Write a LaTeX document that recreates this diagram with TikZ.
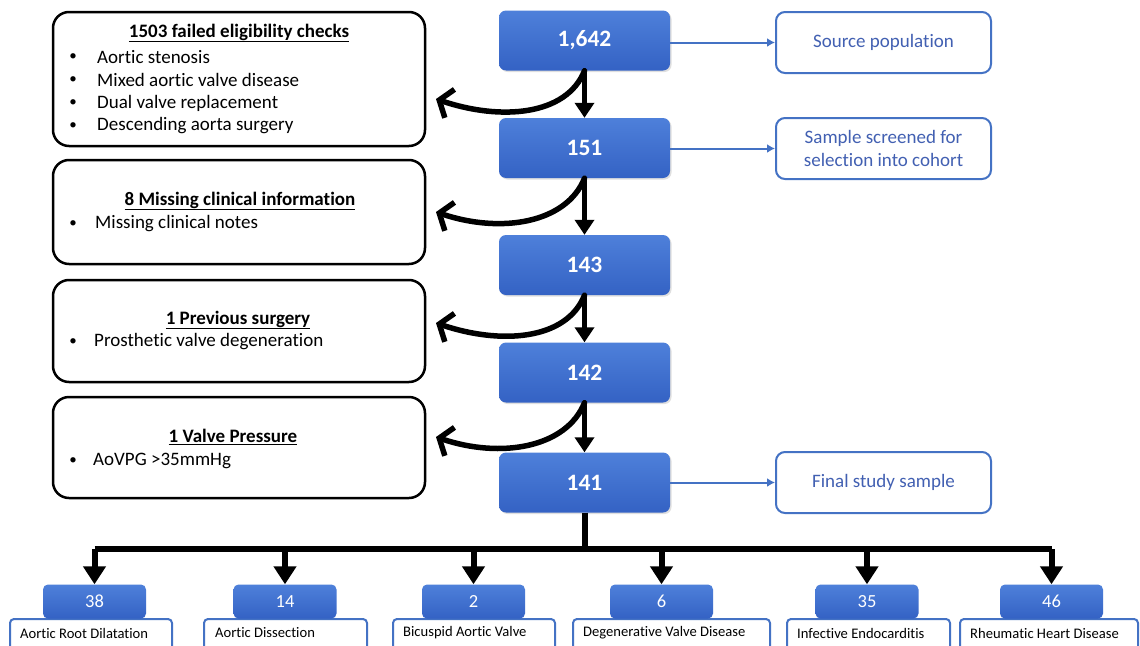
\documentclass[tikz,border=0pt]{standalone}
\usepackage{fontspec}
\setmainfont[Ligatures=NoCommon]{Carlito}
\usetikzlibrary{arrows.meta,shadows}
\definecolor{mblueT}{RGB}{78,128,218}
\definecolor{mblueB}{RGB}{52,98,196}
\definecolor{tblue}{RGB}{68,114,196}
\definecolor{txtblue}{RGB}{66,96,178}
\tikzset{
  mainbox/.style={draw=none, top color=mblueT, bottom color=mblueB, rounded corners=7pt,
    minimum width=171pt, minimum height=60pt, inner sep=0pt, text=white,
    font=\fontsize{23.5}{28}\selectfont\bfseries, drop shadow={opacity=0.25,shadow xshift=1.5pt,shadow yshift=-1.5pt}},
  rightbox/.style={draw=tblue, line width=2pt, rounded corners=9pt, fill=white,
    minimum width=215pt, minimum height=61pt, inner sep=0pt, text=txtblue, align=center,
    font=\fontsize{19}{23}\selectfont},
  leftbox/.style={draw=black, line width=2.5pt, rounded corners=16pt, minimum width=372pt, inner sep=0pt},
  hdr/.style={font=\fontsize{19}{22}\selectfont\bfseries, inner sep=0pt},
  itm/.style={font=\fontsize{19}{22}\selectfont, anchor=west, inner sep=0pt},
  bul/.style={font=\fontsize{15}{17}\selectfont, inner sep=0pt},
  bluelink/.style={draw=tblue, line width=2pt, -{Latex[length=8pt,width=9pt]}},
  downarrow/.style={draw=black, line width=5pt, -{Triangle[length=15pt,width=19pt]}},
  curvearrow/.style={draw=black, line width=5.5pt, line cap=round, -{Straight Barb[length=11pt,width=30pt,line width=5.5pt]}},
  bus/.style={draw=black, line width=6pt},
  busarrow/.style={draw=black, line width=6pt, -{Triangle[length=18pt,width=22pt]}},
  childnum/.style={draw=none, top color=mblueT, bottom color=mblueB, rounded corners=5pt,
    minimum width=103pt, minimum height=34pt, inner sep=0pt, text=white, font=\fontsize{18.5}{21}\selectfont},
  childlbl/.style={draw=tblue, line width=2pt, fill=white, rounded corners=4pt, minimum height=40pt, inner sep=0pt},
  childtxt/.style={anchor=west, inner sep=0pt, font=\fontsize{14.6}{17}\selectfont}
}
\begin{document}
\begin{tikzpicture}[x=1pt,y=-1pt]
\useasboundingbox[fill=white] (0,0) rectangle (1140,645);

% main column
\node[mainbox] (n1642) at (584.5,40.5) {1,642};
\node[mainbox] (n151) at (584.5,148) {151};
\node[mainbox] (n143) at (584.5,265) {143};
\node[mainbox] (n142) at (584.5,372.5) {142};
\node[mainbox] (n141) at (584.5,482.5) {141};

% right boxes
\node[rightbox] (src) at (883.5,42.5) {Source population};
\node[rightbox] (scr) at (883.5,148.5) {Sample screened for\\selection into cohort};
\node[rightbox] (fin) at (883.5,482.5) {Final study sample};
\draw[bluelink] (n1642.east |- src) -- (src.west);
\draw[bluelink] (n151.east |- scr) -- (scr.west);
\draw[bluelink] (n141.east |- fin) -- (fin.west);

% left boxes
\node[leftbox, minimum height=134pt] (b1) at (239,79) {};
\node[hdr] (h1) at (239,33) {\underline{1503 failed eligibility checks}};
\node[bul] (d11) at (73,57) {•};
\node[itm] (t11) at (97,57) {Aortic stenosis};
\node[bul] (d12) at (73,80) {•};
\node[itm] (t12) at (97,80) {Mixed aortic valve disease};
\node[bul] (d13) at (73,103) {•};
\node[itm] (t13) at (97,103) {Dual valve replacement};
\node[bul] (d14) at (73,126) {•};
\node[itm] (t14) at (97,126) {Descending aorta surgery};

\node[leftbox, minimum height=104pt] (b2) at (239,212) {};
\node[hdr] (h2) at (240,201) {\underline{8 Missing clinical information}};
\node[bul] (d21) at (73,224) {•};
\node[itm] (t21) at (95,224) {Missing clinical notes};

\node[leftbox, minimum height=102pt] (b3) at (239,331) {};
\node[hdr] (h3) at (238,320) {\underline{1 Previous surgery}};
\node[bul] (d31) at (73,342) {•};
\node[itm] (t31) at (94,342) {Prosthetic valve degeneration};

\node[leftbox, minimum height=101pt] (b4) at (239,447.5) {};
\node[hdr] (h4) at (233,437) {\underline{1 Valve Pressure}};
\node[bul] (d41) at (73,461) {•};
\node[itm] (t41) at (93,461) {AoVPG >35mmHg};

% down arrows
\draw[downarrow] (n1642.south) -- (n151.north);
\draw[downarrow] (n151.south) -- (n143.north);
\draw[downarrow] (n143.south) -- (n142.north);
\draw[downarrow] (n142.south) -- (n141.north);

% curved exclusion arrows
\coordinate (e1) at (436,99);
\coordinate (e2) at (436,212);
\coordinate (e3) at (436,323);
\coordinate (e4) at (436,437);
\draw[curvearrow] (n1642.south) .. controls +(-18,45) and +(65,22) .. (e1);
\draw[curvearrow] (n151.south) .. controls +(-18,45) and +(65,22) .. (e2);
\draw[curvearrow] (n143.south) .. controls +(-18,45) and +(65,22) .. (e3);
\draw[curvearrow] (n142.south) .. controls +(-18,45) and +(65,22) .. (e4);

% child boxes
\node[childlbl, minimum width=162pt] (l38) at (91,639) {};
\node[childlbl, minimum width=163pt] (l14) at (285.5,639) {};
\node[childlbl, minimum width=162pt] (l2) at (474,639) {};
\node[childlbl, minimum width=197pt] (l6) at (671.5,639) {};
\node[childlbl, minimum width=163pt] (l35) at (868.5,639) {};
\node[childlbl, minimum width=178pt] (l46) at (1049,639) {};

\node[childnum] (c38) at (94.5,601.5) {38};
\node[childnum] (c14) at (285,601.5) {14};
\node[childnum] (c2) at (473.5,601.5) {2};
\node[childnum] (c6) at (661.5,601.5) {6};
\node[childnum] (c35) at (867,601.5) {35};
\node[childnum] (c46) at (1051.5,601.5) {46};

\node[childtxt] (x38) at (20,633) {Aortic Root Dilatation};
\node[childtxt] (x14) at (215,633) {Aortic Dissection};
\node[childtxt] (x2) at (403,633) {Bicuspid Aortic Valve};
\node[childtxt] (x6) at (583,633) {Degenerative Valve Disease};
\node[childtxt] (x35) at (797,633) {Infective Endocarditis};
\node[childtxt] (x46) at (970,633) {Rheumatic Heart Disease};

% bus
\coordinate (hb) at (584.5,549);
\draw[bus] (n141.south) -- (hb);
\draw[bus] (c38 |- hb) -- (c46 |- hb);
\foreach \c in {c38,c14,c2,c6,c35,c46}{
  \draw[busarrow] (\c |- hb) -- (\c.north);
}
\end{tikzpicture}
\end{document}
